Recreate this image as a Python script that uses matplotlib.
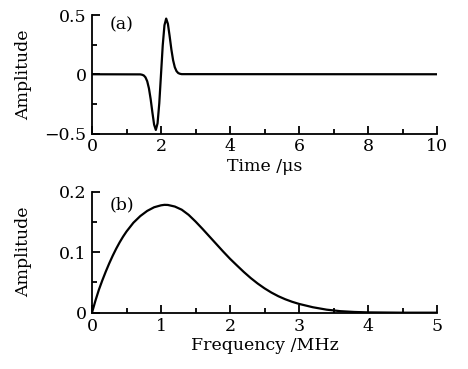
import numpy as np
import matplotlib.pyplot as plt
from matplotlib.ticker import MultipleLocator

# --- data ---
# (a) time signal, Time /us vs Amplitude
time_us = [0.0, 1.40, 1.45, 1.50, 1.55, 1.60, 1.65, 1.70, 1.75, 1.80, 1.85,
           1.90, 1.95, 2.00, 2.05, 2.10, 2.15, 2.20, 2.25, 2.30, 2.35,
           2.40, 2.45, 2.50, 2.55, 2.60, 10.0]
amp_time = [0.0, -0.001, -0.004, -0.010, -0.026, -0.059, -0.119, -0.210,
            -0.322, -0.425, -0.470, -0.414, -0.244, 0.0, 0.244, 0.414,
            0.470, 0.425, 0.322, 0.210, 0.119, 0.059, 0.026, 0.010, 0.004,
            0.001, 0.0]

# (b) spectrum, Frequency /MHz vs Amplitude
freq_mhz = [0.0, 0.05, 0.1, 0.15, 0.2, 0.25, 0.3, 0.35, 0.4, 0.45, 0.5,
            0.6, 0.7, 0.8, 0.9, 1.0, 1.05, 1.1, 1.2, 1.3, 1.4, 1.5, 1.6,
            1.7, 1.8, 1.9, 2.0, 2.1, 2.2, 2.3, 2.4, 2.5, 2.6, 2.7, 2.8,
            2.9, 3.0, 3.2, 3.4, 3.6, 3.8, 4.0, 4.5, 5.0]
amp_freq = [0.0, 0.0200, 0.0380, 0.0535, 0.0680, 0.0815, 0.0940, 0.1055,
            0.1160, 0.1255, 0.1340, 0.1485, 0.1595, 0.1680, 0.1740, 0.1772,
            0.1780, 0.1778, 0.1752, 0.1700, 0.1615, 0.1505, 0.1385, 0.1260,
            0.1135, 0.1010, 0.0890, 0.0780, 0.0672, 0.0572, 0.0482, 0.0402,
            0.0332, 0.0272, 0.0222, 0.0180, 0.0145, 0.0090, 0.0050, 0.0025,
            0.0012, 0.0005, 0.0, 0.0]

xticks_a = [0, 2, 4, 6, 8, 10]
yticks_a = [-0.5, 0, 0.5]
ylabels_a = ['\u22120.5', '0', '0.5']
xticks_b = [0, 1, 2, 3, 4, 5]
yticks_b = [0, 0.1, 0.2]
ylabels_b = ['0', '0.1', '0.2']

plt.rcParams['font.family'] = ['DejaVu Serif']
plt.rcParams['font.size'] = 12.5

fig = plt.figure(figsize=(4.68, 3.69), dpi=100)
ax1 = fig.add_axes([0.1966, 0.6382, 0.7372, 0.3211])
ax2 = fig.add_axes([0.1966, 0.1526, 0.7372, 0.3284])


def style(ax):
    for s in ['top', 'right']:
        ax.spines[s].set_visible(False)
    for s in ['left', 'bottom']:
        ax.spines[s].set_linewidth(1.3)
    ax.tick_params(which='major', direction='in', length=6, width=1.3)
    ax.tick_params(which='minor', direction='in', length=3.5, width=1.3)
    ax.tick_params(axis='x', which='major', pad=3.5)
    ax.tick_params(axis='y', which='major', pad=4)


ax1.plot(time_us, amp_time, color='black', lw=1.6)
ax1.set_xlim(0, 10)
ax1.set_ylim(-0.5, 0.5)
ax1.set_xticks(xticks_a)
ax1.set_yticks(yticks_a)
ax1.set_yticklabels(ylabels_a)
ax1.xaxis.set_minor_locator(MultipleLocator(1))
ax1.yaxis.set_minor_locator(MultipleLocator(0.25))
ax1.set_xlabel('Time /\u03bcs', labelpad=2)
ax1.set_ylabel('Amplitude')
ax1.yaxis.set_label_coords(-0.175, 0.5)
ax1.text(0.052, 0.985, '(a)', transform=ax1.transAxes, va='top', ha='left')
style(ax1)

ax2.plot(freq_mhz, amp_freq, color='black', lw=1.6)
ax2.set_xlim(0, 5)
ax2.set_ylim(0, 0.2)
ax2.set_xticks(xticks_b)
ax2.set_yticks(yticks_b)
ax2.set_yticklabels(ylabels_b)
ax2.xaxis.set_minor_locator(MultipleLocator(0.5))
ax2.yaxis.set_minor_locator(MultipleLocator(0.05))
ax2.set_xlabel('Frequency /MHz', labelpad=2)
ax2.set_ylabel('Amplitude')
ax2.yaxis.set_label_coords(-0.175, 0.5)
ax2.text(0.052, 0.96, '(b)', transform=ax2.transAxes, va='top', ha='left')
style(ax2)

fig.savefig('out.png', dpi=100)
